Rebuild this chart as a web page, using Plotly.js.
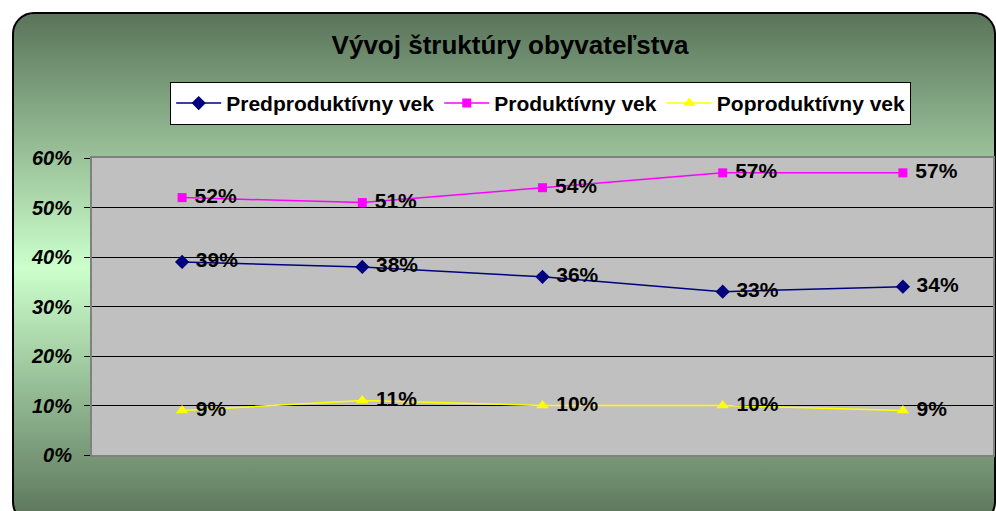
<!DOCTYPE html>
<html>
<head>
<meta charset="utf-8">
<script src="https://cdn.plot.ly/plotly-3.0.1.min.js"></script>
<style>
html, body { margin: 0; padding: 0; background: #ffffff; }
#wrap { position: relative; width: 996px; height: 511px; overflow: hidden; }
#frame {
	position: absolute; left: 12px; top: 12px; width: 980px; height: 508px;
	border: 2px solid #000; border-radius: 22px;
	background: linear-gradient(to bottom, #5a745a 0%, #ccffcc 50%, #5a745a 100%);
}
#chart { position: absolute; left: 0; top: 0; width: 996px; height: 511px; }
</style>
</head>
<body>
<div id="wrap">
	<div id="frame"></div>
	<div id="chart"></div>
</div>
<script>
// categories (no labels shown on the original)
var categories = [1, 2, 3, 4, 5];

// series values, fraction of population
var predprod = [0.39, 0.38, 0.36, 0.33, 0.34];
var prod     = [0.52, 0.51, 0.54, 0.57, 0.57];
var poprod   = [0.09, 0.11, 0.10, 0.10, 0.09];

var seriesNames = ['Predproduktívny vek', 'Produktívny vek', 'Poproduktívny vek'];

var yTicks = [0, 0.1, 0.2, 0.3, 0.4, 0.5, 0.6];
var yTickText = ['0%', '10%', '20%', '30%', '40%', '50%', '60%'];

// data labels, with a little gap in front so they sit right of the marker
function pct(arr){
	return arr.map(function(v){ return '\u00a0' + Math.round(v*100) + '%'; });
}

var font = 'Arial, "Liberation Sans", sans-serif';
var labelFont = {family: font, size: 21, color: '#000', weight: 'bold'};

function makeTrace(name, vals, color, symbol, size){
	return {
		name: name,
		x: categories,
		y: vals,
		mode: 'lines+markers+text',
		text: pct(vals),
		textposition: 'middle right',
		textfont: labelFont,
		line: {color: color, width: 1.5},
		marker: {color: color, symbol: symbol, size: size},
		hoverinfo: 'skip'
	};
}

var data = [
	makeTrace(seriesNames[0], predprod, '#000080', 'diamond', 11),
	makeTrace(seriesNames[1], prod, '#ff00ff', 'square', 9),
	makeTrace(seriesNames[2], poprod, '#ffff00', 'triangle-up', 11)
];

var layout = {
	width: 996,
	height: 511,
	paper_bgcolor: 'rgba(0,0,0,0)',
	plot_bgcolor: '#c0c0c0',
	margin: {l: 92, r: 3, t: 158, b: 56, pad: 0},
	showlegend: true,
	title: {
		text: 'Vývoj štruktúry obyvateľstva',
		font: {family: font, size: 26, color: '#000', weight: 'bold'},
		x: 510/996, xref: 'container', xanchor: 'center',
		y: 1 - 45/511, yref: 'container', yanchor: 'middle'
	},
	legend: {
		orientation: 'h',
		x: 0.498, xanchor: 'center',
		y: 1.256, yanchor: 'top',
		bgcolor: '#ffffff',
		bordercolor: '#000000',
		borderwidth: 1,
		font: {family: font, size: 21, color: '#000', weight: 'bold'},
		itemwidth: 45
	},
	xaxis: {
		range: [0.5, 5.5],
		showticklabels: false,
		ticks: '',
		showgrid: false,
		zeroline: false,
		showline: true,
		mirror: true,
		linecolor: '#808080',
		linewidth: 2,
		fixedrange: true
	},
	yaxis: {
		range: [0, 0.6],
		tickvals: yTicks,
		ticktext: yTickText,
		ticks: 'outside',
		ticklen: 6,
		tickcolor: '#000',
		tickwidth: 1,
		ticklabelstandoff: 8,
		tickfont: {family: font, size: 20, color: '#000', weight: 'bold', style: 'italic'},
		showgrid: true,
		gridcolor: '#000000',
		gridwidth: 1,
		zeroline: false,
		showline: true,
		mirror: true,
		linecolor: '#808080',
		linewidth: 2,
		fixedrange: true
	}
};

Plotly.newPlot('chart', data, layout, {displayModeBar: false, staticPlot: true});
</script>
</body>
</html>
